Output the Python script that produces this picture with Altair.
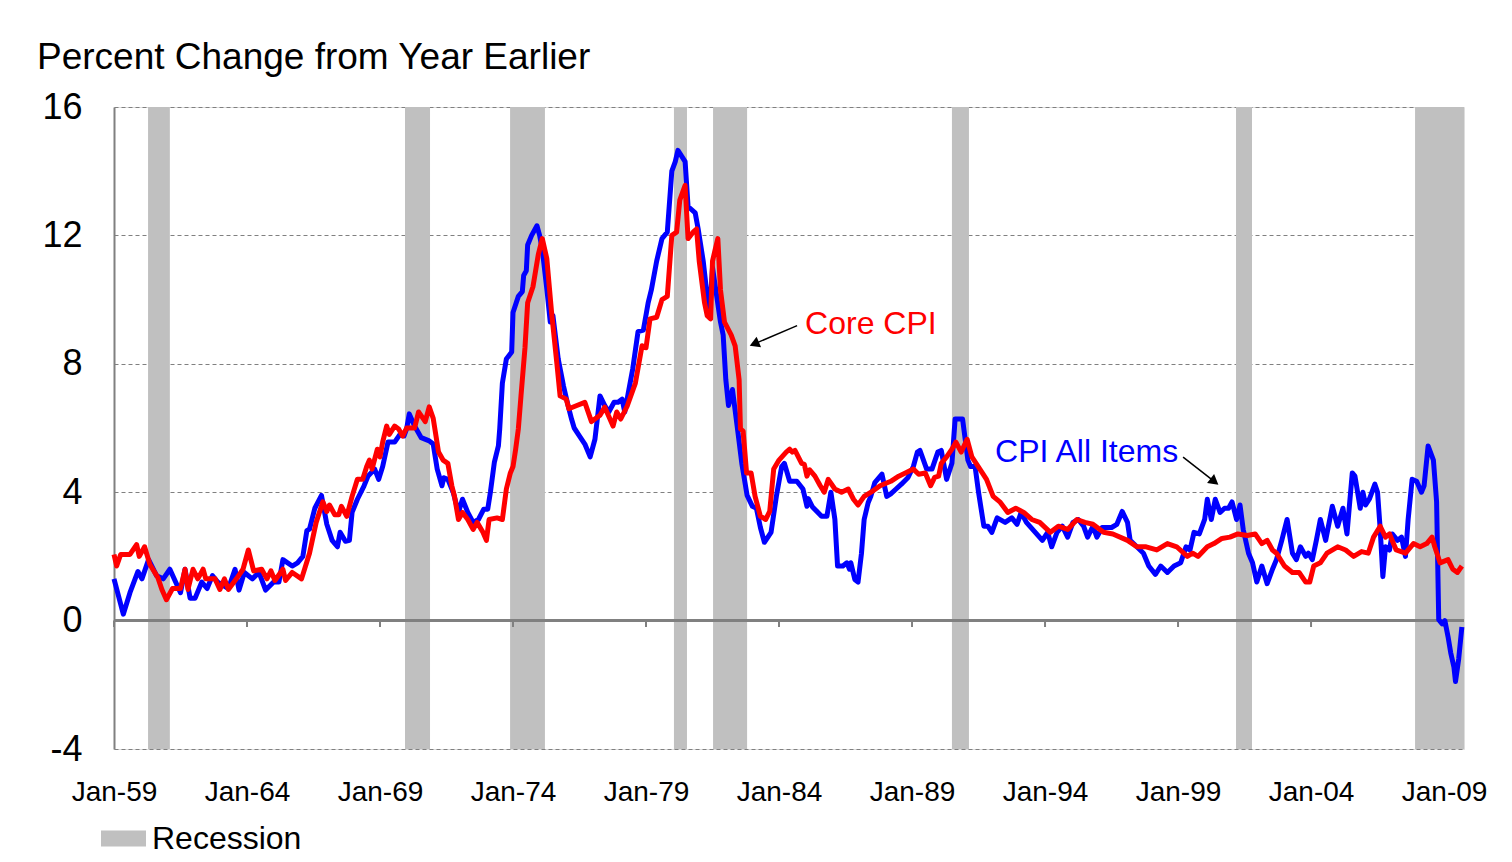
import altair as alt
import pandas as pd

# ---------------- data ----------------
cpi_year = [1959.0, 1959.35, 1959.6, 1959.9, 1960.05, 1960.3, 1960.6, 1960.85, 1961.1, 1961.5,
            1961.67, 1961.86, 1962.05, 1962.3, 1962.5, 1962.7, 1962.9, 1963.3, 1963.55, 1963.7,
            1963.9, 1964.2, 1964.45, 1964.7, 1965.0, 1965.2, 1965.35, 1965.7, 1965.9, 1966.1,
            1966.25, 1966.35, 1966.55, 1966.8, 1967.0, 1967.2, 1967.4, 1967.5, 1967.7, 1967.85,
            1967.95, 1968.15, 1968.4, 1968.55, 1968.8, 1968.95, 1969.1, 1969.3, 1969.55, 1969.75,
            1969.9, 1970.0, 1970.1, 1970.3, 1970.55, 1970.85, 1971.0, 1971.15, 1971.33, 1971.4,
            1971.55, 1971.75, 1971.95, 1972.1, 1972.3, 1972.5, 1972.7, 1972.9, 1973.05, 1973.15,
            1973.3, 1973.45, 1973.5, 1973.6, 1973.75, 1973.95, 1974.0, 1974.2, 1974.35, 1974.4,
            1974.5, 1974.55, 1974.7, 1974.9, 1975.0, 1975.1, 1975.27, 1975.4, 1975.5, 1975.7,
            1975.9, 1976.07, 1976.2, 1976.3, 1976.5, 1976.7, 1976.9, 1977.08, 1977.27, 1977.45,
            1977.6, 1977.8, 1977.95, 1978.1, 1978.2, 1978.5, 1978.7, 1978.9, 1979.08, 1979.2,
            1979.4, 1979.6, 1979.8, 1979.97, 1980.1, 1980.2, 1980.47, 1980.58, 1980.85, 1980.96,
            1981.15, 1981.3, 1981.4, 1981.5, 1981.8, 1981.9, 1982.0, 1982.1, 1982.25, 1982.45,
            1982.6, 1982.8, 1983.0, 1983.15, 1983.3, 1983.45, 1983.7, 1983.9, 1984.1, 1984.2,
            1984.4, 1984.67, 1984.9, 1985.05, 1985.1, 1985.25, 1985.6, 1985.8, 1985.95, 1986.1,
            1986.2, 1986.4, 1986.55, 1986.65, 1986.7, 1986.85, 1986.97, 1987.1, 1987.2, 1987.35,
            1987.45, 1987.6, 1987.87, 1988.05, 1988.2, 1988.4, 1988.6, 1988.85, 1989.05, 1989.2,
            1989.3, 1989.55, 1989.75, 1989.97, 1990.1, 1990.3, 1990.5, 1990.62, 1990.9, 1991.1,
            1991.2, 1991.37, 1991.5, 1991.7, 1991.85, 1992.0, 1992.2, 1992.5, 1992.75, 1992.95,
            1993.1, 1993.3, 1993.6, 1993.9, 1994.1, 1994.25, 1994.45, 1994.65, 1994.85, 1995.05,
            1995.25, 1995.45, 1995.6, 1995.8, 1995.95, 1996.15, 1996.5, 1996.7, 1996.9, 1997.1,
            1997.2, 1997.45, 1997.7, 1997.9, 1998.15, 1998.35, 1998.6, 1998.85, 1999.1, 1999.3,
            1999.45, 1999.6, 1999.8, 2000.0, 2000.1, 2000.25, 2000.4, 2000.58, 2000.75, 2000.9,
            2001.03, 2001.2, 2001.33, 2001.45, 2001.65, 2001.8, 2001.96, 2002.15, 2002.35, 2002.55,
            2002.7, 2002.9, 2003.1, 2003.3, 2003.45, 2003.6, 2003.8, 2003.9, 2004.05, 2004.2,
            2004.35, 2004.55, 2004.8, 2005.0, 2005.2, 2005.35, 2005.55, 2005.65, 2005.85, 2005.95,
            2006.05, 2006.2, 2006.4, 2006.5, 2006.6, 2006.7, 2006.8, 2006.95, 2007.05, 2007.25,
            2007.4, 2007.55, 2007.65, 2007.8, 2007.97, 2008.15, 2008.25, 2008.4, 2008.6, 2008.72,
            2008.8, 2008.93, 2009.03, 2009.15, 2009.25, 2009.37, 2009.43, 2009.55, 2009.67]
cpi_value = [1.3, 0.2, 0.87, 1.53, 1.3, 1.9, 1.4, 1.3, 1.6, 0.87,
             1.6, 0.7, 0.7, 1.2, 1.0, 1.4, 1.2, 1.0, 1.6, 0.95,
             1.5, 1.3, 1.5, 0.95, 1.2, 1.2, 1.9, 1.7, 1.8, 2.0,
             2.8, 2.85, 3.5, 3.9, 3.0, 2.5, 2.3, 2.75, 2.47, 2.5,
             3.37, 3.78, 4.2, 4.5, 4.72, 4.4, 4.8, 5.56, 5.56, 5.8,
             5.75, 5.97, 6.44, 6.06, 5.7, 5.6, 5.5, 4.72, 4.2, 4.45,
             4.4, 4.0, 3.37, 3.78, 3.37, 3.06, 3.15, 3.47, 3.47, 4.0,
             4.94, 5.44, 5.97, 7.4, 8.15, 8.37, 9.6, 10.1, 10.25, 10.75,
             10.9, 11.7, 12.0, 12.3, 12.0, 11.56, 10.34, 9.3, 9.5, 8.15,
             7.3, 6.7, 6.28, 6.0, 5.75, 5.5, 5.1, 5.65, 7.0, 6.7,
             6.5, 6.8, 6.8, 6.9, 6.5, 7.84, 9.0, 9.05, 9.9, 10.3,
             11.2, 11.9, 12.1, 14.0, 14.3, 14.65, 14.3, 12.9, 12.7, 12.2,
             11.2, 10.1, 9.7, 11.0, 9.3, 8.9, 7.5, 6.7, 7.2, 5.9,
             4.9, 3.9, 3.56, 3.5, 2.9, 2.44, 2.75, 3.87, 4.8, 4.9,
             4.34, 4.34, 4.1, 3.56, 3.8, 3.55, 3.25, 3.25, 4.0, 3.15,
             1.7, 1.7, 1.8, 1.6, 1.8, 1.28, 1.2, 2.1, 3.15, 3.67,
             3.87, 4.3, 4.56, 3.87, 3.95, 4.1, 4.25, 4.46, 4.8, 5.25,
             5.3, 4.72, 4.72, 5.25, 5.3, 4.4, 4.9, 6.28, 6.28, 5.0,
             4.8, 4.8, 4.0, 2.94, 2.94, 2.75, 3.2, 3.06, 3.2, 3.0,
             3.37, 3.06, 2.78, 2.5, 2.75, 2.3, 2.75, 2.94, 2.6, 3.06,
             3.15, 2.94, 2.6, 2.94, 2.6, 2.9, 2.9, 3.0, 3.4, 3.06,
             2.5, 2.3, 2.1, 1.7, 1.44, 1.7, 1.5, 1.7, 1.8, 2.3,
             2.2, 2.75, 2.7, 3.15, 3.78, 3.15, 3.78, 3.37, 3.5, 3.5,
             3.7, 3.15, 3.6, 2.84, 2.1, 1.8, 1.2, 1.7, 1.15, 1.6,
             1.9, 2.5, 3.15, 2.1, 1.9, 2.3, 2.0, 2.1, 1.9, 2.5,
             3.15, 2.5, 3.56, 2.94, 3.5, 2.7, 4.6, 4.5, 3.5, 4.0,
             3.6, 3.8, 4.25, 4.0, 2.84, 1.37, 2.3, 2.2, 2.7, 2.5,
             2.6, 2.0, 3.15, 4.4, 4.34, 4.0, 4.2, 5.44, 5.0, 3.7,
             0.03, -0.1, 0.0, -0.5, -1.0, -1.44, -1.9, -1.2, -0.2]

core_year = [1959.0, 1959.1, 1959.25, 1959.6, 1959.85, 1959.95, 1960.15, 1960.35, 1960.65, 1960.8,
             1960.97, 1961.2, 1961.5, 1961.67, 1961.78, 1961.97, 1962.15, 1962.35, 1962.45, 1962.8,
             1962.98, 1963.15, 1963.3, 1963.6, 1963.85, 1964.05, 1964.25, 1964.55, 1964.75, 1964.9,
             1965.05, 1965.35, 1965.45, 1965.7, 1966.05, 1966.35, 1966.6, 1966.85, 1967.0, 1967.1,
             1967.3, 1967.45, 1967.55, 1967.75, 1967.95, 1968.15, 1968.35, 1968.5, 1968.6, 1968.7,
             1968.9, 1969.0, 1969.1, 1969.25, 1969.35, 1969.55, 1969.7, 1969.85, 1970.0, 1970.3,
             1970.45, 1970.7, 1970.85, 1971.0, 1971.2, 1971.37, 1971.55, 1971.7, 1971.8, 1971.95,
             1972.1, 1972.3, 1972.5, 1972.65, 1972.87, 1973.0, 1973.1, 1973.4, 1973.6, 1973.75,
             1973.9, 1974.0, 1974.1, 1974.2, 1974.3, 1974.45, 1974.55, 1974.75, 1974.95, 1975.1,
             1975.27, 1975.45, 1975.65, 1975.77, 1976.0, 1976.1, 1976.4, 1976.7, 1976.95, 1977.27,
             1977.45, 1977.76, 1977.9, 1978.05, 1978.3, 1978.6, 1978.85, 1979.0, 1979.15, 1979.4,
             1979.6, 1979.8, 1979.97, 1980.15, 1980.27, 1980.47, 1980.58, 1980.77, 1980.9, 1981.0,
             1981.2, 1981.3, 1981.43, 1981.5, 1981.6, 1981.7, 1981.8, 1981.95, 1982.2, 1982.35,
             1982.5, 1982.55, 1982.65, 1982.78, 1982.95, 1983.1, 1983.3, 1983.5, 1983.65, 1983.8,
             1984.0, 1984.27, 1984.4, 1984.5, 1984.6, 1984.85, 1984.95, 1985.05, 1985.15, 1985.35,
             1985.55, 1985.7, 1985.85, 1986.1, 1986.35, 1986.6, 1986.8, 1986.97, 1987.2, 1987.55,
             1987.8, 1988.2, 1988.5, 1988.75, 1989.05, 1989.25, 1989.5, 1989.7, 1989.85, 1990.0,
             1990.1, 1990.3, 1990.5, 1990.65, 1990.85, 1991.07, 1991.25, 1991.55, 1991.8, 1992.05,
             1992.3, 1992.6, 1992.9, 1993.2, 1993.5, 1993.8, 1994.2, 1994.5, 1994.85, 1995.2,
             1995.5, 1995.8, 1996.2, 1996.55, 1997.1, 1997.45, 1997.8, 1998.2, 1998.6, 1998.95,
             1999.35, 1999.55, 1999.75, 2000.1, 2000.35, 2000.65, 2000.95, 2001.25, 2001.6, 2001.9,
             2002.15, 2002.35, 2002.55, 2002.7, 2003.0, 2003.3, 2003.55, 2003.8, 2003.95, 2004.1,
             2004.35, 2004.6, 2005.0, 2005.3, 2005.6, 2005.9, 2006.15, 2006.35, 2006.6, 2006.8,
             2006.95, 2007.2, 2007.55, 2007.85, 2008.1, 2008.35, 2008.55, 2008.65, 2008.85, 2009.15,
             2009.33, 2009.5, 2009.67]
core_value = [2.06, 1.7, 2.06, 2.06, 2.37, 2.0, 2.3, 1.75, 1.34, 0.97,
              0.65, 1.0, 1.0, 1.6, 0.97, 1.6, 1.3, 1.6, 1.3, 1.3,
              0.97, 1.3, 0.97, 1.3, 1.6, 2.2, 1.55, 1.6, 1.3, 1.55,
              1.25, 1.6, 1.25, 1.5, 1.3, 2.1, 3.06, 3.7, 3.4, 3.6,
              3.3, 3.3, 3.56, 3.25, 3.87, 4.4, 4.4, 4.8, 5.0, 4.72,
              5.34, 5.1, 5.56, 6.06, 5.8, 6.06, 5.97, 5.75, 6.0, 6.0,
              6.5, 6.2, 6.66, 6.3, 5.25, 5.0, 4.9, 4.2, 3.87, 3.15,
              3.37, 3.15, 2.84, 3.06, 2.75, 2.5, 3.15, 3.2, 3.15, 4.1,
              4.6, 4.8, 5.34, 5.97, 7.0, 8.5, 9.9, 10.4, 11.4, 11.9,
              11.28, 9.6, 8.0, 7.0, 6.9, 6.6, 6.7, 6.8, 6.2, 6.4,
              6.65, 6.06, 6.5, 6.28, 6.7, 7.4, 8.56, 8.5, 9.4, 9.45,
              10.0, 10.1, 12.0, 12.1, 13.1, 13.56, 11.9, 12.1, 12.2, 11.2,
              9.9, 9.5, 9.4, 11.2, 11.56, 11.9, 10.3, 9.3, 8.9, 8.56,
              7.5, 5.97, 5.9, 4.6, 4.6, 3.87, 3.25, 3.15, 3.4, 4.72,
              5.0, 5.25, 5.34, 5.25, 5.3, 4.9, 4.87, 4.5, 4.7, 4.5,
              4.2, 4.0, 4.4, 4.1, 4.0, 4.1, 3.78, 3.6, 3.87, 4.05,
              4.2, 4.34, 4.5, 4.6, 4.72, 4.56, 4.6, 4.2, 4.46, 4.5,
              4.9, 5.1, 5.34, 5.56, 5.25, 5.65, 5.1, 4.72, 4.4, 3.87,
              3.7, 3.37, 3.5, 3.37, 3.15, 3.06, 2.75, 2.94, 2.84, 3.15,
              3.06, 3.0, 2.75, 2.7, 2.5, 2.3, 2.3, 2.2, 2.4, 2.3,
              2.0, 2.1, 2.0, 2.3, 2.4, 2.56, 2.6, 2.7, 2.65, 2.7,
              2.4, 2.5, 2.2, 2.1, 1.7, 1.5, 1.5, 1.2, 1.2, 1.7,
              1.8, 2.1, 2.3, 2.2, 2.0, 2.15, 2.1, 2.6, 2.94, 2.6,
              2.7, 2.2, 2.1, 2.4, 2.3, 2.4, 2.6, 2.3, 1.8, 1.9,
              1.6, 1.5, 1.7]

rec_start = [1960.28, 1969.94, 1973.89, 1980.05, 1981.52, 1990.5, 2001.18, 2007.91]
rec_end = [1961.1, 1970.88, 1975.2, 1980.54, 1982.8, 1991.14, 2001.78, 2009.75]

x_ticks = [1959, 1964, 1969, 1974, 1979, 1984, 1989, 1994, 1999, 2004, 2009]
y_ticks = [-4, 0, 4, 8, 12, 16]

label_text = ["Core CPI", "CPI All Items"]
label_x = [1984.98, 1992.12]
label_y = [8.94, 4.94]
label_color = ["#FF0000", "#0000FF"]

arrow_x1 = [1984.68, 1999.19]
arrow_y1 = [9.19, 5.09]
arrow_x2 = [1983.07, 2000.37]
arrow_y2 = [8.62, 4.33]
arrow_angle = [247, 128]

# ---------------- tables ----------------
cpi_df = pd.DataFrame({"year": cpi_year, "value": cpi_value})
core_df = pd.DataFrame({"year": core_year, "value": core_value})
rec_df = pd.DataFrame({"start": rec_start, "end": rec_end, "label": ["Recession"] * len(rec_start)})
tick_df = pd.DataFrame({"year": x_ticks})
lab_df = pd.DataFrame({"x": label_x, "y": label_y, "text": label_text, "c": label_color})
arr_df = pd.DataFrame({"x1": arrow_x1, "y1": arrow_y1, "x2": arrow_x2, "y2": arrow_y2, "ang": arrow_angle})

FONT = "Liberation Sans"
W, H = 1350, 642

xscale = alt.Scale(domain=[1959, 2009.75], nice=False, zero=False)
yscale = alt.Scale(domain=[-4, 16], nice=False, zero=False)

xaxis = alt.Axis(values=x_ticks, labelExpr="'Jan-' + substring(toString(datum.value), 2, 4)",
                 ticks=False, domain=False, grid=False, title=None, labelFontSize=28,
                 labelColor="black", labelFont=FONT, labelPadding=29, labelFlush=False)
yaxis = alt.Axis(values=y_ticks, labelExpr="toString(datum.value)", grid=True, gridDash=[4, 3],
                 gridColor="#808080", gridWidth=1,
                 domain=True, domainColor="#808080", domainWidth=2, ticks=False, title=None,
                 labelFontSize=36, labelColor="black", labelFont=FONT, labelPadding=32)

rec = alt.Chart(rec_df).mark_rect(opacity=1).encode(
    x=alt.X("start:Q", scale=xscale, axis=xaxis),
    x2="end:Q",
    color=alt.Color("label:N", scale=alt.Scale(range=["#C0C0C0"]),
                    legend=alt.Legend(title=None, orient="none", legendX=-13, legendY=709,
                                      symbolType="M-1,-0.356L1,-0.356L1,0.356L-1,0.356Z",
                                      symbolSize=2025, symbolStrokeWidth=0, symbolOpacity=1,
                                      labelFontSize=32, labelFont=FONT, labelColor="black",
                                      labelOffset=6, padding=0)),
)

zero = alt.Chart(tick_df).mark_rule(color="#808080", strokeWidth=2).encode(
    x=alt.datum(1959, scale=xscale), x2=alt.datum(2009.75),
    y=alt.datum(0, scale=yscale, axis=yaxis),
)
ticks = alt.Chart(tick_df).mark_rule(color="#808080", strokeWidth=2).encode(
    x=alt.X("year:Q", scale=xscale, axis=xaxis),
    y=alt.datum(0, scale=yscale, axis=yaxis), y2=alt.datum(-0.2),
)

cpi = alt.Chart(cpi_df).mark_line(color="#0000FF", strokeWidth=5, strokeJoin="round").encode(
    x=alt.X("year:Q", scale=xscale, axis=xaxis),
    y=alt.Y("value:Q", scale=yscale, axis=yaxis),
)
core = alt.Chart(core_df).mark_line(color="#FF0000", strokeWidth=5, strokeJoin="round").encode(
    x=alt.X("year:Q", scale=xscale, axis=xaxis),
    y=alt.Y("value:Q", scale=yscale, axis=yaxis),
)

labels = alt.Chart(lab_df).mark_text(align="left", baseline="alphabetic", fontSize=32, font=FONT).encode(
    x=alt.X("x:Q", scale=xscale, axis=xaxis),
    y=alt.Y("y:Q", scale=yscale, axis=yaxis),
    text="text:N",
    color=alt.Color("c:N", scale=None),
)
shafts = alt.Chart(arr_df).mark_rule(color="black", strokeWidth=1.5).encode(
    x=alt.X("x1:Q", scale=xscale, axis=xaxis), y=alt.Y("y1:Q", scale=yscale, axis=yaxis),
    x2="x2:Q", y2="y2:Q",
)
heads = alt.Chart(arr_df).mark_point(shape="triangle-up", filled=True, color="black", size=130, opacity=1).encode(
    x=alt.X("x2:Q", scale=xscale, axis=xaxis), y=alt.Y("y2:Q", scale=yscale, axis=yaxis),
    angle=alt.Angle("ang:Q", scale=None),
)

chart = alt.layer(rec, zero, ticks, cpi, core, labels, shafts, heads).properties(
    width=W, height=H,
    title=alt.TitleParams("Percent Change from Year Earlier", anchor="start", frame="group",
                          dx=-77, offset=12, fontSize=37, font=FONT, fontWeight="normal", color="black"),
    autosize=alt.AutoSizeParams(type="none"),
    padding={"left": 106, "top": 99, "right": 40, "bottom": 112},
).configure_view(stroke="#A0A0A0", strokeWidth=1).configure(background="white")

chart.save("out.html", embed_options={"renderer": "svg", "actions": False})
